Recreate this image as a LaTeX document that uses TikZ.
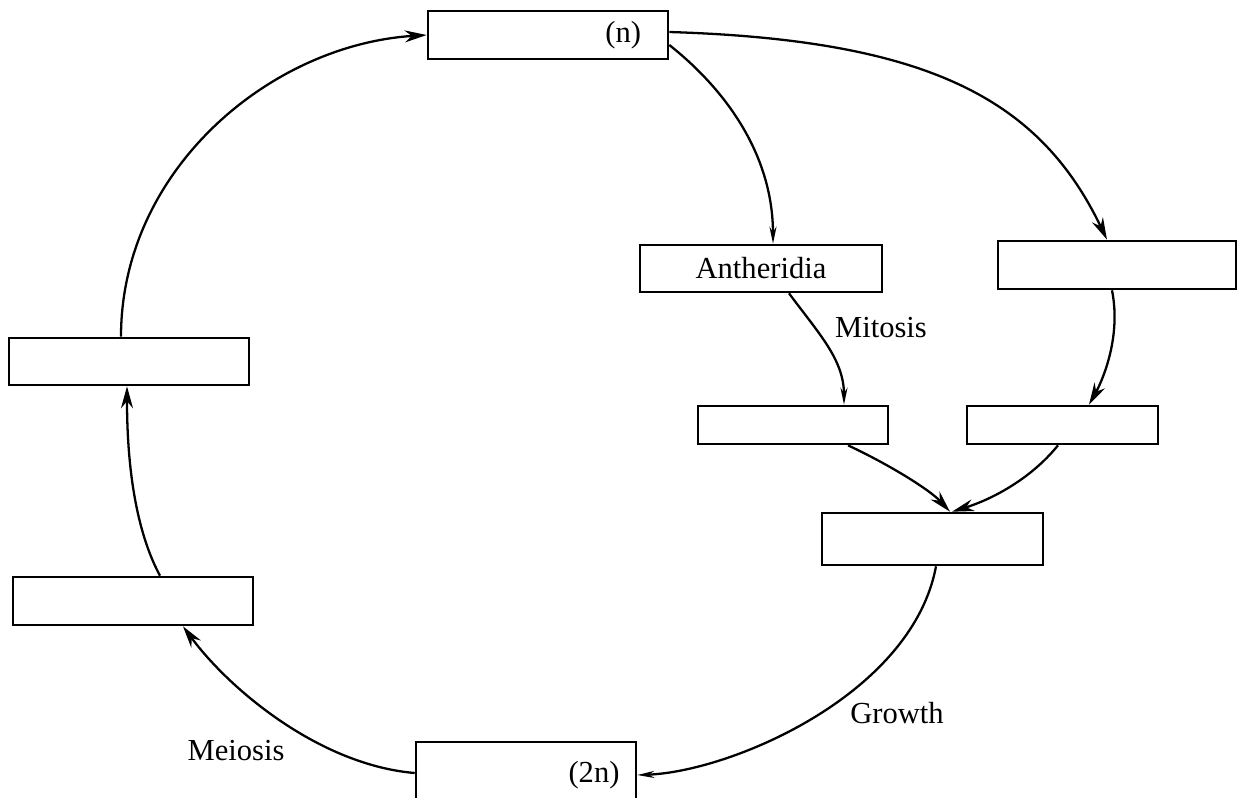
\documentclass[tikz,border=0pt]{standalone}
\usepackage{fontspec}
\setmainfont{Liberation Serif}
\usetikzlibrary{arrows.meta}

\begin{document}
\begin{tikzpicture}[x=0.02cm,y=-0.02cm,line width=1.3pt,
    font=\fontsize{17.4}{20}\selectfont,
    box/.style={rectangle,draw,line width=1.5pt,inner sep=0pt,minimum width=4.8cm,minimum height=0.96cm},
    big/.style={-{Stealth[length=0.44cm,width=0.24cm]}},
    thin/.style={-{Stealth[length=0.34cm,width=0.14cm]}}]
    \clip (0,0) rectangle (1245,798);
    % gametophyte side
    \node[box,text width=3.72cm,inner xsep=0.54cm,align=right](gam) at (548,35){(n)};
    \node[box,minimum width=4.84cm,minimum height=0.94cm](anth) at (761,268.5){Antheridia};
    \node[box,minimum width=4.76cm](arch) at (1117,265){};
    \node[box,minimum width=3.8cm,minimum height=0.76cm](sperm) at (793,425){};
    \node[box,minimum width=3.82cm,minimum height=0.76cm](egg) at (1062.5,425){};
    \node[box,minimum width=4.42cm,minimum height=1.04cm](zyg) at (932.5,539){};
    % sporophyte side
    \node[box,minimum width=4.4cm,minimum height=1.32cm,text width=3.74cm,inner xsep=0.33cm,align=right](spo) at (526,775){(2n)};
    \node[box](lowl) at (133,601){};
    \node[box,minimum height=0.94cm](upl) at (129,361.5){};
    % labels
    \node(mit) at (881,328){Mitosis};
    \node(gro) at (897,713){Growth};
    \node(mei) at (236,751){Meiosis};
    % connectors
    \draw[big] ([xshift=-0.16cm]upl.north) .. controls (121,170) and (270,45) .. (gam.west);
    \draw[big] ([yshift=0.06cm]gam.east) .. controls (930,40) and (1040,100) .. ([xshift=-0.2cm]arch.north);
    \draw[thin] ([yshift=-0.2cm]gam.east) .. controls (720,85) and (773,150) .. ([xshift=0.24cm]anth.north);
    \draw[thin] ([xshift=0.56cm]anth.south) .. controls (820,335) and (844,360) .. ([xshift=1.02cm]sperm.north);
    \draw[big] ([xshift=-0.1cm]arch.south) .. controls (1122,340) and (1100,385) .. ([xshift=0.53cm]egg.north);
    \draw[big] ([xshift=1.1cm]sperm.south) .. controls (890,465) and (930,490) .. ([xshift=0.35cm]zyg.north);
    \draw[big] ([xshift=-0.09cm]egg.south) .. controls (1030,480) and (990,500) .. ([xshift=0.39cm]zyg.north);
    \draw[thin] ([xshift=0.07cm]zyg.south) .. controls (912,695) and (730,772) .. (spo.east);
    \draw[big] ([yshift=0.04cm]spo.west) .. controls (320,765) and (230,690) .. ([xshift=1cm]lowl.south);
    \draw[big] ([xshift=0.54cm]lowl.north) .. controls (130,520) and (127,440) .. ([xshift=-0.04cm]upl.south);
\end{tikzpicture}
\end{document}
